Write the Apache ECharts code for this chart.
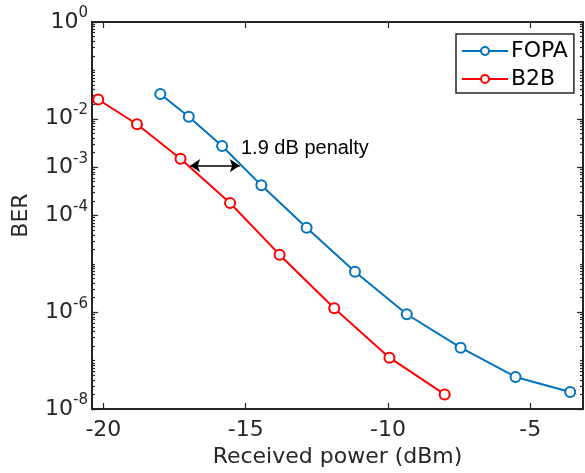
<!DOCTYPE html>
<html><head><meta charset="utf-8">
<script src="https://cdn.jsdelivr.net/npm/echarts@6/dist/echarts.min.js"></script>
<style>html,body{margin:0;padding:0;background:#fff}#c{width:585px;height:473px}</style>
</head><body><div id="c"></div>
<script>
// ---- data ----
const fopaPower = [-18.0, -17.0, -15.83, -14.45, -12.86, -11.16, -9.34, -7.45, -5.52, -3.60];
const fopaBER   = [3.25e-2, 1.1e-2, 2.73e-3, 4.2e-4, 5.6e-5, 6.9e-6, 9.1e-7, 1.85e-7, 4.6e-8, 2.25e-8];
const b2bPower  = [-20.18, -18.82, -17.29, -15.55, -13.81, -11.89, -9.95, -8.01];
const b2bBER    = [2.5e-2, 7.7e-3, 1.49e-3, 1.81e-4, 1.55e-5, 1.21e-6, 1.15e-7, 2.0e-8];
const xTicks = [-20, -15, -10, -5];
const yTicks = [1, 1e-2, 1e-3, 1e-4, 1e-6, 1e-8];
const penaltyFrom = -16.95, penaltyTo = -15.21, penaltyBER = 1.07e-3;
const penaltyText = '1.9 dB penalty';
const seriesNames = ['FOPA', 'B2B'];
const xName = 'Received power (dBm)';
const yName = 'BER';

// minor log ticks (k * 10^n)
const yMinor = [];
for (let n = -8; n < 0; n++) for (let k = 1; k <= 9; k++) yMinor.push(Number((k * Math.pow(10, n)).toPrecision(3)));
yMinor.push(1);

const AX = '#262626';
const X_MIN = -20.4, X_MAX = -3.15;
const chart = echarts.init(document.getElementById('c'));
const pair = (xs, ys) => xs.map((x, i) => [x, ys[i]]);

function yAxisCfg(pos, ticks, len, labels) {
  return {
    type: 'log', logBase: 10, min: 1e-8, max: 1, position: pos,
    axisLine: { show: true, lineStyle: { color: AX, width: 2 } },
    axisTick: { show: true, inside: true, length: len, customValues: ticks, lineStyle: { color: AX, width: 1.2 } },
    axisLabel: labels ? {
      show: true, customValues: yTicks, margin: 4, color: AX,
      formatter: v => '{b|10}{s|' + Math.round(Math.log10(v)) + '}',
      rich: {
        b: { fontSize: 22, fontFamily: 'DejaVu Sans', color: AX },
        s: { fontSize: 15, fontFamily: 'DejaVu Sans', color: AX, padding: [0, 0, 17, 0] }
      }
    } : { show: false },
    splitLine: { show: false },
    name: labels ? yName : '', nameLocation: 'middle', nameGap: 60, nameRotate: 90,
    nameTextStyle: { fontSize: 22, fontFamily: 'DejaVu Sans', color: AX }
  };
}

chart.setOption({
  animation: false,
  grid: { left: 92, right: 2, top: 22, bottom: 64, containLabel: false },
  legend: {
    left: 456, top: 34, orient: 'vertical',
    data: seriesNames,
    itemWidth: 46, itemHeight: 10, itemGap: 6,
    padding: [6, 6, 3, 5],
    borderColor: AX, borderWidth: 1.5, backgroundColor: '#fff',
    textStyle: { fontSize: 22, fontFamily: 'DejaVu Sans', color: '#000', lineHeight: 22, padding: [0, 0, 0, -2] }
  },
  xAxis: [{
    type: 'value', min: X_MIN, max: X_MAX, position: 'bottom',
    axisLine: { show: true, onZero: false, lineStyle: { color: AX, width: 2 } },
    axisTick: { show: true, inside: true, length: 6, customValues: xTicks, lineStyle: { color: AX, width: 1.2 } },
    axisLabel: { show: true, customValues: xTicks, margin: 10, fontSize: 22, fontFamily: 'DejaVu Sans', color: AX },
    splitLine: { show: false },
    name: xName, nameLocation: 'middle', nameGap: 35,
    nameTextStyle: { fontSize: 22, fontFamily: 'DejaVu Sans', color: AX }
  }, {
    type: 'value', min: X_MIN, max: X_MAX, position: 'top',
    axisLine: { show: true, onZero: false, lineStyle: { color: AX, width: 2 } },
    axisTick: { show: true, inside: true, length: 6, customValues: xTicks, lineStyle: { color: AX, width: 1.2 } },
    axisLabel: { show: false }, splitLine: { show: false }
  }],
  yAxis: [
    yAxisCfg('left', yTicks, 6, true),
    yAxisCfg('left', yMinor, 3, false),
    yAxisCfg('right', yTicks, 6, false),
    yAxisCfg('right', yMinor, 3, false)
  ],
  graphic: [{
    type: 'text', left: 241, top: 138, silent: true,
    style: { text: penaltyText, fontSize: 20, fontFamily: 'Liberation Sans', fill: '#000' }
  }],
  series: [{
    name: seriesNames[0], type: 'line', xAxisIndex: 0, yAxisIndex: 0,
    data: pair(fopaPower, fopaBER),
    symbol: 'emptyCircle', symbolSize: 10,
    lineStyle: { color: '#0072BD', width: 2 },
    itemStyle: { color: '#0072BD', borderColor: '#0072BD', borderWidth: 2 }
  }, {
    name: seriesNames[1], type: 'line', xAxisIndex: 0, yAxisIndex: 0,
    data: pair(b2bPower, b2bBER),
    symbol: 'emptyCircle', symbolSize: 10,
    lineStyle: { color: '#FF0000', width: 2 },
    itemStyle: { color: '#FF0000', borderColor: '#FF0000', borderWidth: 2 },
    markLine: {
      silent: true, symbol: ['arrow', 'arrow'], symbolSize: [10, 10],
      label: { show: false },
      lineStyle: { color: '#000', width: 1.5, type: 'solid' },
      emphasis: { disabled: true },
      data: [[{ coord: [penaltyFrom, penaltyBER] }, { coord: [penaltyTo, penaltyBER] }]]
    }
  }]
});
</script></body></html>
